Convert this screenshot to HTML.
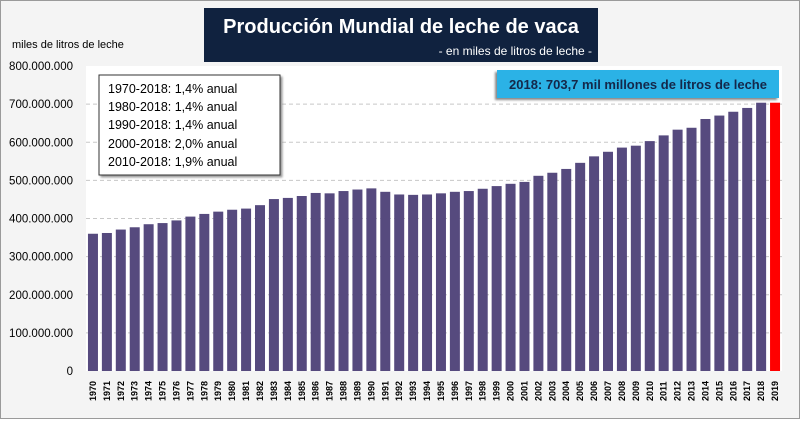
<!DOCTYPE html>
<html><head><meta charset="utf-8"><style>
body{margin:0;width:800px;height:419px;overflow:hidden;background:#fff;font-family:"Liberation Sans",sans-serif}
</style></head><body>
<svg width="800" height="419" xmlns="http://www.w3.org/2000/svg">
<rect x="0.5" y="0.5" width="799" height="418" fill="#f4f4f4" stroke="#9a9a9a"/>
<rect x="86" y="66" width="696" height="305" fill="#fff"/>
<g id="grid"></g>
<g id="bars"></g>
<g id="ylabels" font-size="11.5" fill="#000" text-anchor="end"></g>
<g id="xlabels" font-size="9" font-weight="bold" fill="#000"></g>
<text x="12" y="48" font-size="11" fill="#000">miles de litros de leche</text>
<rect x="204" y="8" width="394" height="54" fill="#10223f"/>
<text x="401" y="33" font-size="20" font-weight="bold" fill="#fff" text-anchor="middle">Producción Mundial de leche de vaca</text>
<text x="592" y="55" font-size="12" fill="#fff" text-anchor="end">- en miles de litros de leche -</text>
<rect x="99" y="75" width="181" height="100" fill="#fff" stroke="#333" stroke-width="1" style="filter:drop-shadow(2px 2px 1px #999)"/>
<g font-size="12.5" fill="#000">
<text x="108" y="93">1970-2018: 1,4% anual</text>
<text x="108" y="111">1980-2018: 1,4% anual</text>
<text x="108" y="129">1990-2018: 1,4% anual</text>
<text x="108" y="148">2000-2018: 2,0% anual</text>
<text x="108" y="166">2010-2018: 1,9% anual</text>
</g>
<rect x="497" y="70" width="282" height="28" fill="#2bb2e6" style="filter:drop-shadow(-2px 2px 1px #888)"/>
<text x="638" y="89" font-size="13" font-weight="bold" fill="#14284a" text-anchor="middle">2018: 703,7 mil millones de litros de leche</text>
</svg>
<script>
const years=[1970,1971,1972,1973,1974,1975,1976,1977,1978,1979,1980,1981,1982,1983,1984,1985,1986,1987,1988,1989,1990,1991,1992,1993,1994,1995,1996,1997,1998,1999,2000,2001,2002,2003,2004,2005,2006,2007,2008,2009,2010,2011,2012,2013,2014,2015,2016,2017,2018,2019];
const production=[360,362,371,377,385,388,395,405,412,418,423,426,435,451,454,459,467,466,472,476,479,470,463,462,463,466,470,472,478,485,491,496,512,520,530,546,563,575,586,591,603,618,633,638,661,670,680,690,703.7,703.7];
const yTicks=[0,100,200,300,400,500,600,700,800];
const yTickLabels=["0","100.000.000","200.000.000","300.000.000","400.000.000","500.000.000","600.000.000","700.000.000","800.000.000"];
const NS="http://www.w3.org/2000/svg";
const y0=371,yTop=66,yMax=800;
const yScale=v=>y0-(v/yMax)*(y0-yTop);
const xLeft=86,xRight=782,step=(xRight-xLeft)/years.length;
const xScale=i=>xLeft+step*(i+0.5);
const grid=document.getElementById('grid'),bars=document.getElementById('bars'),yl=document.getElementById('ylabels'),xl=document.getElementById('xlabels');
yTicks.forEach((t,i)=>{
  if(t>0&&t<yMax){const l=document.createElementNS(NS,'line');
  l.setAttribute('x1',xLeft);l.setAttribute('x2',xRight);l.setAttribute('y1',yScale(t));l.setAttribute('y2',yScale(t));
  l.setAttribute('stroke','#c8c8c8');l.setAttribute('stroke-dasharray','4,3');
  
  
  grid.appendChild(l);}
  const tx=document.createElementNS(NS,'text');
  tx.setAttribute('x',73);tx.setAttribute('y',yScale(t)+4);tx.textContent=yTickLabels[i];
  
  
  yl.appendChild(tx);
});
const bw=10;
years.forEach((yr,i)=>{
  const r=document.createElementNS(NS,'rect');
  const yv=yScale(production[i]);
  r.setAttribute('x',xScale(i)-bw/2);r.setAttribute('y',yv);r.setAttribute('width',bw);r.setAttribute('height',y0-yv);
  r.setAttribute('fill',i===years.length-1?'#ff0000':'#564a7e');
  
  
  bars.appendChild(r);
  const t=document.createElementNS(NS,'text');
  const cx=xScale(i)+3,cy=401;
  t.setAttribute('x',cx);t.setAttribute('y',cy);t.setAttribute('transform','rotate(-90 '+cx+' '+cy+')');
  t.textContent=yr;
  
  
  xl.appendChild(t);
});
</script>
</body></html>
